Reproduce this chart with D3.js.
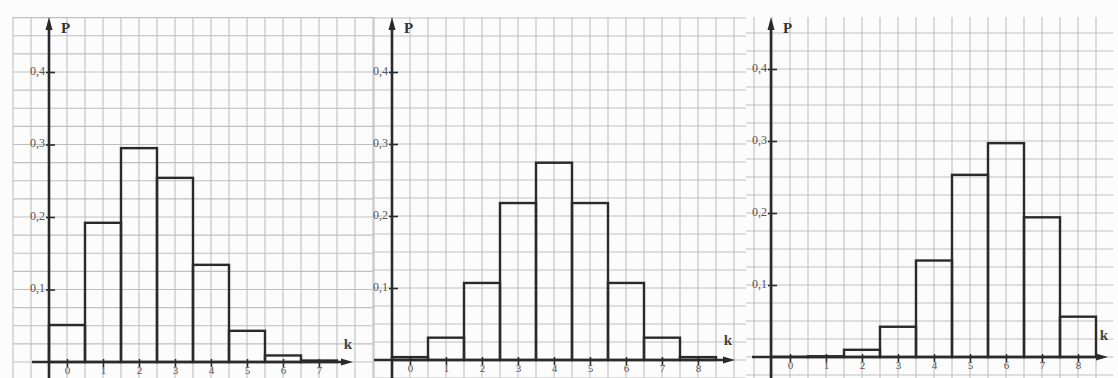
<!DOCTYPE html>
<html>
<head>
<meta charset="utf-8">
<script src="https://cdn.jsdelivr.net/npm/d3@7"></script>
<style>
  html, body { margin: 0; padding: 0; background: #fcfcfc; }
  svg { display: block; }
  text { font-family: "Liberation Serif", "DejaVu Serif", serif; }
</style>
</head>
<body>
<svg id="chart" width="1118" height="378"></svg>
<script>
// ---- data ----
const k1 = [0, 1, 2, 3, 4, 5, 6, 7];
const p1 = [0.051, 0.192, 0.295, 0.254, 0.134, 0.043, 0.009, 0.002];
const k2 = [0, 1, 2, 3, 4, 5, 6, 7, 8];
const p2 = [0.004, 0.031, 0.107, 0.218, 0.274, 0.218, 0.107, 0.031, 0.004];
const k3 = [0, 1, 2, 3, 4, 5, 6, 7, 8];
const p3 = [0.0002, 0.001, 0.010, 0.042, 0.134, 0.253, 0.297, 0.194, 0.056];
const yTickValues = [0.1, 0.2, 0.3, 0.4];
const yTickLabels = ["0,1", "0,2", "0,3", "0,4"];
const yAxisLabel = "P";
const xAxisLabel = "k";

// ---- layout ----
const panels = [
  { ks: k1, ps: p1, left: 13, right: 373, x0: 67, y0: 362, per: 725, arrowEnd: 353, axStart: 32, kLab: [348, 349] },
  { ks: k2, ps: p2, left: 373, right: 746, x0: 410, y0: 360, per: 720, arrowEnd: 735, axStart: 374, kLab: [728, 345] },
  { ks: k3, ps: p3, left: 746, right: 1113, x0: 790, y0: 357, per: 720, arrowEnd: 1108, axStart: 752, kLab: [1104, 340] }
];
const unit = 36;
const gridTop = 17, gridBottom = 378;

const svg = d3.select("#chart");
const ink = "#2a2a2a";

panels.forEach((P, pi) => {
  const x = d3.scaleLinear().domain([0, 1]).range([P.x0, P.x0 + unit]);
  const y = d3.scaleLinear().domain([0, 0.1]).range([P.y0, P.y0 - P.per / 10]);
  const g = svg.append("g");

  // grid (every 0.5 in k, every 0.025 in P)
  const kMin = x.invert(P.left), kMax = x.invert(P.right);
  const vx = d3.range(Math.ceil(kMin * 2) / 2, kMax + 0.001, 0.5);
  g.append("g").selectAll("line").data(vx).join("line")
    .attr("x1", d => x(d)).attr("x2", d => x(d))
    .attr("y1", gridTop).attr("y2", gridBottom)
    .attr("stroke", "#bfbfbf").attr("stroke-width", 1.1);
  const pMin = y.invert(gridBottom), pMax = y.invert(gridTop);
  const hy = d3.range(Math.ceil(pMin / 0.025) * 0.025, pMax + 0.0001, 0.025);
  g.append("g").selectAll("line").data(hy).join("line")
    .attr("x1", P.left).attr("x2", P.right)
    .attr("y1", d => y(d)).attr("y2", d => y(d))
    .attr("stroke", "#bfbfbf").attr("stroke-width", 1.1);

  // bars
  g.append("g").selectAll("rect").data(P.ks).join("rect")
    .attr("x", (d) => x(d - 0.5))
    .attr("width", x(1) - x(0))
    .attr("y", (d, i) => y(P.ps[i]))
    .attr("height", (d, i) => y(0) - y(P.ps[i]))
    .attr("fill", "none")
    .attr("stroke", ink).attr("stroke-width", 2.4);

  // x axis
  const xa = d3.axisBottom(x).tickValues(P.ks).tickFormat(d => String(d)).tickSize(5).tickPadding(0);
  const gx = g.append("g").attr("transform", `translate(0,${P.y0})`).call(xa);
  gx.select(".domain").remove();
  gx.selectAll(".tick line").attr("stroke", ink).attr("stroke-width", 1.5).attr("y1", -3);
  gx.selectAll(".tick text").attr("fill", "#555").attr("font-size", 11)
    .attr("font-family", "Liberation Serif, serif").attr("y", 4);
  g.append("line").attr("x1", P.axStart).attr("x2", P.arrowEnd - 8)
    .attr("y1", P.y0).attr("y2", P.y0).attr("stroke", ink).attr("stroke-width", 2.6);
  g.append("path")
    .attr("d", `M${P.arrowEnd},${P.y0} L${P.arrowEnd - 12},${P.y0 - 3.5} L${P.arrowEnd - 12},${P.y0 + 3.5} Z`)
    .attr("fill", ink);
  g.append("text").attr("x", P.kLab[0]).attr("y", P.kLab[1])
    .attr("font-size", 15).attr("font-weight", "bold").attr("fill", "#444")
    .attr("text-anchor", "middle").text(xAxisLabel);

  // y axis
  const axX = x(-0.5) + (pi === 2 ? -1 : 0);
  const ya = d3.axisLeft(y).tickValues(yTickValues).tickFormat((d, i) => yTickLabels[i]).tickSize(5).tickPadding(1);
  const gy = g.append("g").attr("transform", `translate(${axX},0)`).call(ya);
  gy.select(".domain").remove();
  gy.selectAll(".tick line").attr("stroke", ink).attr("stroke-width", 1.6).attr("x2", -3).attr("x1", 6);
  gy.selectAll(".tick text").attr("fill", "#555").attr("font-size", 12)
    .attr("font-family", "Liberation Serif, serif").attr("x", -4).attr("dy", "0.2em");
  g.append("line").attr("x1", axX).attr("x2", axX)
    .attr("y1", 28).attr("y2", gridBottom).attr("stroke", ink).attr("stroke-width", 2.6);
  g.append("path")
    .attr("d", `M${axX},${17} L${axX - 3.5},${30} L${axX + 3.5},${30} Z`)
    .attr("fill", ink);
  g.append("text").attr("x", axX + 12).attr("y", 33)
    .attr("font-size", 15).attr("font-weight", "bold").attr("fill", "#333")
    .text(yAxisLabel);
});
</script>
</body>
</html>
